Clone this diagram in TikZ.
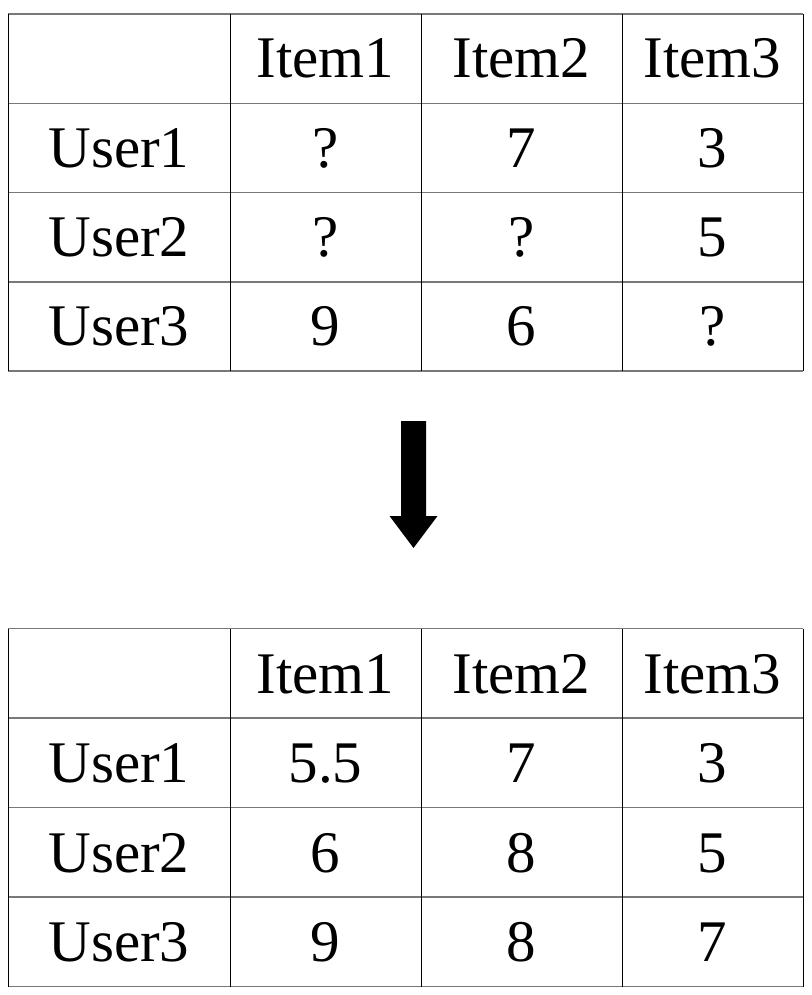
\documentclass[tikz,border=0pt]{standalone}
\usepackage{fontspec}
\setmainfont{Liberation Serif}
\definecolor{rowline}{RGB}{120,120,120}
\tikzset{every picture/.style={line width=1pt}}
\tikzset{cell/.style={font=\fontsize{59}{70}\selectfont,anchor=base,inner sep=0pt}}

\begin{document}
\begin{tikzpicture}[x=1pt,y=-1pt]
	\useasboundingbox (0,0) rectangle (811,995);
	%Bang 1 - duong ngang
	\draw [rowline,line width=1.5pt] (8,14)--(803,14);
	\draw [rowline,line width=1.5pt] (8,103.3)--(803,103.3);
	\draw [rowline,line width=1.5pt] (8,192.5)--(803,192.5);
	\draw [rowline,line width=1.5pt] (8,281.8)--(803,281.8);
	\draw [rowline,line width=1.5pt] (8,371)--(803,371);
	%Bang 1 - duong doc
	\draw (8,14)--(8,371);
	\draw (230,14)--(230,371);
	\draw (421,14)--(421,371);
	\draw (622,14)--(622,371);
	\draw (803,14)--(803,371);
	%Bang 1 - tieu de
	\node[cell] (ai1) at (325.5,78) {Item1};
	\node[cell] (ai2) at (521.5,78) {Item2};
	\node[cell] (ai3) at (712.5,78) {Item3};
	%Bang 1 - hang 1
	\node[cell] (au1) at (119,167.4) {User1};
	\node[cell] (a11) at (325.5,167.4) {?};
	\node[cell] (a12) at (521.5,167.4) {7};
	\node[cell] (a13) at (712.5,167.4) {3};
	%Bang 1 - hang 2
	\node[cell] (au2) at (119,256.6) {User2};
	\node[cell] (a21) at (325.5,256.6) {?};
	\node[cell] (a22) at (521.5,256.6) {?};
	\node[cell] (a23) at (712.5,256.6) {5};
	%Bang 1 - hang 3
	\node[cell] (au3) at (119,345.9) {User3};
	\node[cell] (a31) at (325.5,345.9) {9};
	\node[cell] (a32) at (521.5,345.9) {6};
	\node[cell] (a33) at (712.5,345.9) {?};
	%Mui ten
	\fill (401,421)--(426,421)--(426,516)--(437.5,516)--(413.5,548)--(389.5,516)--(401,516)--cycle;
	%Bang 2 - duong ngang
	\draw [rowline,line width=1.5pt] (8,628.5)--(803,628.5);
	\draw [rowline,line width=1.5pt] (8,718)--(803,718);
	\draw [rowline,line width=1.5pt] (8,807.5)--(803,807.5);
	\draw [rowline,line width=1.5pt] (8,897)--(803,897);
	\draw [rowline,line width=1.5pt] (8,986.5)--(803,986.5);
	%Bang 2 - duong doc
	\draw (8,628.5)--(8,986.5);
	\draw (230,628.5)--(230,986.5);
	\draw (421,628.5)--(421,986.5);
	\draw (622,628.5)--(622,986.5);
	\draw (803,628.5)--(803,986.5);
	%Bang 2 - tieu de
	\node[cell] (bi1) at (325.5,693.3) {Item1};
	\node[cell] (bi2) at (521.5,693.3) {Item2};
	\node[cell] (bi3) at (712.5,693.3) {Item3};
	%Bang 2 - hang 1
	\node[cell] (bu1) at (119,782.8) {User1};
	\node[cell] (b11) at (325.5,782.8) {5.5};
	\node[cell] (b12) at (521.5,782.8) {7};
	\node[cell] (b13) at (712.5,782.8) {3};
	%Bang 2 - hang 2
	\node[cell] (bu2) at (119,872.3) {User2};
	\node[cell] (b21) at (325.5,872.3) {6};
	\node[cell] (b22) at (521.5,872.3) {8};
	\node[cell] (b23) at (712.5,872.3) {5};
	%Bang 2 - hang 3
	\node[cell] (bu3) at (119,961.8) {User3};
	\node[cell] (b31) at (325.5,961.8) {9};
	\node[cell] (b32) at (521.5,961.8) {8};
	\node[cell] (b33) at (712.5,961.8) {7};
\end{tikzpicture}
\end{document}
